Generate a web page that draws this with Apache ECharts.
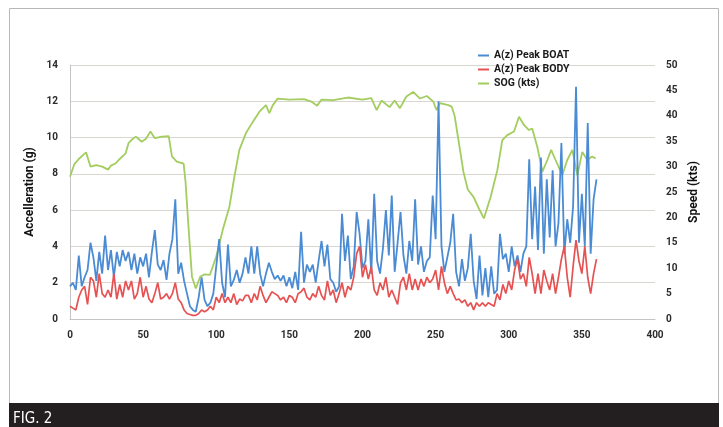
<!DOCTYPE html>
<html><head><meta charset="utf-8">
<script src="https://cdn.jsdelivr.net/npm/echarts@6/dist/echarts.min.js"></script>
<style>html,body{margin:0;padding:0;background:#fff}#c{width:723px;height:427px}</style>
</head><body><div id="c"></div>
<script>
// Sample spacing (x units) for the acceleration series
const sampleStep = 2;

// A(z) Peak BOAT (g), x = 0,2,4,...,360
const boatPeak = [
  1.8,2.0,1.6,3.5,1.8,2.3,2.7,4.2,3.4,2.1,
  3.7,2.5,4.6,2.7,3.8,2.3,3.7,2.9,3.8,3.2,
  3.7,2.7,3.6,2.5,3.4,2.9,3.6,2.3,3.7,4.9,
  3.0,2.7,3.25,2.15,3.6,4.4,6.6,2.5,3.1,2.1,
  1.4,0.7,0.5,0.4,1.2,2.3,1.05,0.7,0.9,1.4,
  2.9,4.4,2.0,1.2,4.1,1.8,2.15,2.7,2.0,2.5,
  3.4,2.5,4.0,2.5,4.0,2.5,1.8,2.5,3.1,2.6,
  2.2,2.4,2.1,2.4,1.8,2.3,1.7,2.6,1.6,4.8,
  2.0,3.0,2.6,3.0,2.0,3.2,4.3,2.9,4.1,2.2,
  2.0,1.5,1.8,5.8,3.2,4.6,2.2,2.9,5.9,4.7,
  2.8,3.2,5.5,2.5,6.9,3.2,2.5,3.9,6.0,3.5,
  6.8,2.6,4.2,5.9,3.5,2.5,4.3,3.2,6.6,3.0,
  4.0,2.6,3.2,3.4,6.8,4.4,12.0,4.0,2.6,3.4,
  4.2,5.8,2.6,1.8,3.3,2.1,2.8,4.7,2.1,1.1,
  3.5,1.3,2.8,1.2,2.9,1.4,1.6,4.7,3.3,3.6,
  2.6,4.0,2.9,3.5,2.6,3.6,4.0,8.8,4.4,7.3,
  3.8,8.9,3.6,7.7,4.5,8.2,4.0,5.3,9.7,3.6,
  5.5,4.2,6.2,12.8,4.2,6.9,4.0,10.8,3.6,6.6,
  7.7
];

// A(z) Peak BODY (g), x = 0,2,4,...,360
const bodyPeak = [
  0.7,0.6,0.5,1.2,1.6,1.8,0.8,2.3,2.1,1.2,
  2.5,1.4,1.2,1.6,1.2,2.5,1.1,1.9,1.2,2.1,
  1.6,2.1,1.1,1.4,2.3,1.2,1.8,1.1,0.9,1.4,
  2.0,1.1,1.2,1.4,1.1,1.4,2.0,1.1,0.9,0.5,
  0.3,0.25,0.2,0.2,0.3,0.5,0.4,0.5,0.7,0.5,
  1.2,0.9,1.4,0.9,1.2,0.9,1.4,0.8,1.1,1.0,
  1.3,1.3,0.9,1.4,1.05,1.8,1.3,0.9,1.2,1.5,
  1.4,1.3,1.05,1.2,0.9,1.3,1.2,0.9,1.4,1.5,
  1.7,1.2,1.05,1.4,1.2,1.8,1.3,1.05,2.1,1.3,
  1.6,0.9,1.4,2.0,1.2,1.8,1.6,2.3,3.6,4.0,
  2.3,3.0,2.2,2.9,1.6,1.3,2.0,1.6,2.3,1.2,
  1.6,1.2,0.8,2.0,2.3,1.6,2.5,1.6,2.2,1.6,
  2.2,1.8,2.3,2.0,2.2,2.7,1.6,2.9,2.0,1.4,
  1.8,1.4,1.05,1.1,0.9,1.05,0.7,0.9,0.5,0.9,
  0.7,0.9,0.7,0.9,0.8,0.7,1.4,1.05,1.9,1.4,
  2.1,1.6,2.7,3.3,2.2,2.5,1.8,3.4,2.5,1.4,
  2.5,1.4,2.7,2.1,1.6,2.5,1.4,2.3,3.3,4.0,
  2.3,1.2,2.9,4.35,3.2,2.5,4.0,2.3,1.4,2.5,
  3.3
];

// SOG (kts): x positions and values
const sogX = [0,3,6,9,11,14,18,22,26,28,31,34,38,40,43,45,49,52,55,58,63,67.5,69.7,73,77.7,79,81,83.4,86,89,92,95.7,100,104.4,109,112.4,115.8,120.3,125,129.5,134,136.3,138.5,142,150,160,165,169,172,180,190,200,206,209.7,213,218.5,222,225.6,230,234.7,239.3,244,248.4,250.7,253,258.7,261,263,266,269,272,276,280,283,287.6,292.2,295.6,299,301,303.6,307,310.4,313.8,316,319.5,323,326.4,329,332,336.6,340,343.5,346.9,350.3,353.7,357,359.4];
const sogY = [28,30.5,31.5,32.3,32.8,30,30.3,30,29.4,30.2,30.6,31.5,32.6,34.6,35.5,35.9,34.9,35.5,36.9,35.6,35.9,36,32,31,30.6,27,18.2,8.3,6,8.3,8.8,8.7,12.3,17.5,22.1,28,33.3,36.6,38.8,40.8,42.1,40.5,42,43.4,43.2,43.3,42.8,42,43.2,43.1,43.6,43.2,43.5,41.1,43,41.7,43,41.5,43.8,44.7,43.4,43.9,42.8,41.1,42.5,42.1,41.8,40,34.5,29,25.5,24,21.5,19.8,24,29.3,35.2,36.2,36.5,36.9,39.8,38.2,37.2,37.5,33.9,29,31.3,33.3,31.3,28.3,31.3,33.3,28.3,32.9,31.3,32,31.6];

const seriesNames = ['A(z) Peak BOAT','A(z) Peak BODY','SOG (kts)'];
const xTicks = {min:0, max:400, interval:50};
const yLeftTicks = {min:0, max:14, interval:2};
const yRightTicks = {min:0, max:50, interval:5};

const pairs = (arr) => arr.map((v,i)=>[i*sampleStep, v]);
const sogPairs = sogX.map((x,i)=>[x, sogY[i]]);

const labelFont = {fontFamily:'Roboto', fontWeight:'bold', fontSize:10, color:'#2b2b2b'};
const titleFont = {fontFamily:'Roboto', fontWeight:'bold', fontSize:12, color:'#111'};

const chart = echarts.init(document.getElementById('c'), null, {renderer:'canvas'});
chart.setOption({
  animation:false,
  backgroundColor:'#fff',
  grid:{left:70, right:68, top:65, bottom:108, containLabel:false},
  legend:{
    data:seriesNames, orient:'vertical', left:473, top:45,
    icon:'rect', itemWidth:11, itemHeight:2, itemGap:3,
    textStyle:{fontFamily:'Roboto', fontWeight:'bold', fontSize:10.5, color:'#1a1a1a'}
  },
  xAxis:{
    type:'value', min:xTicks.min, max:xTicks.max, interval:xTicks.interval,
    axisLine:{show:true, lineStyle:{color:'#c4c4c4'}},
    axisTick:{show:false}, splitLine:{show:false},
    axisLabel:Object.assign({margin:11}, labelFont)
  },
  yAxis:[{
    type:'value', min:yLeftTicks.min, max:yLeftTicks.max, interval:yLeftTicks.interval,
    name:'Accelleration (g)', nameLocation:'middle', nameRotate:90, nameGap:30,
    nameTextStyle:titleFont,
    axisLine:{show:true, lineStyle:{color:'#c4c4c4'}},
    axisTick:{show:false},
    splitLine:{show:true, lineStyle:{color:'#d9d6d2', width:1}},
    axisLabel:Object.assign({margin:12}, labelFont)
  },{
    type:'value', position:'right', min:yRightTicks.min, max:yRightTicks.max, interval:yRightTicks.interval,
    name:'Speed (kts)', nameLocation:'middle', nameRotate:90, nameGap:30,
    nameTextStyle:titleFont,
    axisLine:{show:false}, axisTick:{show:false}, splitLine:{show:false},
    axisLabel:Object.assign({margin:11}, labelFont)
  }],
  series:[
    {name:seriesNames[2], type:'line', yAxisIndex:1, data:sogPairs, symbol:'none', z:1,
     lineStyle:{color:'#a3cd5e', width:1.8}, itemStyle:{color:'#a3cd5e'}},
    {name:seriesNames[0], type:'line', yAxisIndex:0, data:pairs(boatPeak), symbol:'none', z:2,
     lineStyle:{color:'#4a8bd3', width:1.8}, itemStyle:{color:'#4a8bd3'}},
    {name:seriesNames[1], type:'line', yAxisIndex:0, data:pairs(bodyPeak), symbol:'none', z:3,
     lineStyle:{color:'#e65252', width:1.7}, itemStyle:{color:'#e65252'}}
  ],
  graphic:[
    {type:'rect', shape:{x:9.5, y:8.5, width:709, height:395}, style:{fill:'none', stroke:'#b8b8b8', lineWidth:1}, silent:true},
    {type:'rect', shape:{x:9, y:403, width:710, height:24}, style:{fill:'#231f20'}, silent:true},
    {type:'text', x:13, y:419, style:{text:'FIG. 2', fill:'#ffffff', font:'15px "Liberation Sans Narrow", "DejaVu Sans Condensed", sans-serif', verticalAlign:'middle', align:'left'}, silent:true}
  ]
});
</script>
</body></html>
